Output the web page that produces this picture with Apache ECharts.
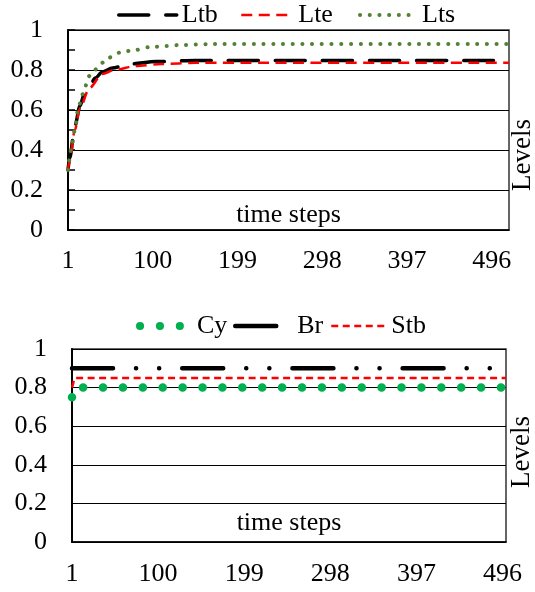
<!DOCTYPE html>
<html><head><meta charset="utf-8">
<script src="https://cdn.jsdelivr.net/npm/echarts@6/dist/echarts.min.js"></script>
<style>html,body{margin:0;padding:0;background:#fff}#c{width:535px;height:592px}</style>
</head><body><div id="c"></div>
<script>
// ---- data ----
const topStepCount = 516;      // number of time steps on the upper chart's axis
const bottomStepCount = 500;   // number of time steps on the lower chart's axis
const xTickLabels = ['1', '100', '199', '298', '397', '496'];

const ltbSteps  = [1, 3, 9, 15, 20, 26, 33, 41, 53, 73, 104, 150, 516];
const ltbValues = [0.30, 0.36, 0.52, 0.62, 0.68, 0.72, 0.76, 0.79, 0.81, 0.83, 0.842, 0.848, 0.848];

const lteSteps  = [1, 3, 9, 15, 26, 41, 55, 80, 110, 150, 516];
const lteValues = [0.30, 0.35, 0.50, 0.61, 0.71, 0.78, 0.80, 0.82, 0.83, 0.836, 0.836];

const ltsSteps  = [1, 5, 9, 13, 17, 19, 26, 32, 39, 47, 64, 79, 96, 116, 131, 170, 516];
const ltsValues = [0.30, 0.41, 0.50, 0.61, 0.66, 0.695, 0.77, 0.80, 0.83, 0.86, 0.89, 0.90, 0.914, 0.92, 0.925, 0.93, 0.93];

const cySteps  = [1, 2, 500];
const cyValues = [0.75, 0.80, 0.80];

const brSteps  = [1, 500];
const brValues = [0.90, 0.90];

const stbSteps  = [1, 4, 500];
const stbValues = [0.80, 0.85, 0.85];

// ---- build ----
const FONT = 'Liberation Serif';
const FS = 26;
function cats(n){ const a=[]; for(let i=1;i<=n;i++) a.push(String(i)); return a; }
function pairs(steps, vals){ return steps.map((s,i)=>[String(s), vals[i]]); }

function xAxisFor(gi, n, nameGap, labelMargin){
  return {
    gridIndex: gi, type: 'category', data: cats(n), boundaryGap: false,
    axisLine: {show: true, lineStyle: {color: '#000', width: 1.5}},
    axisTick: {show: false},
    splitLine: {show: false},
    axisLabel: {interval: 98, margin: labelMargin, fontSize: FS, fontFamily: FONT, color: '#000',
      formatter: v => xTickLabels.indexOf(v) >= 0 ? v : ''},
    name: 'time steps', nameLocation: 'middle', nameGap: nameGap,
    nameTextStyle: {fontSize: FS, fontFamily: FONT, color: '#000', verticalAlign: 'middle'}
  };
}
function yAxisFor(gi, ticks){
  return {
    gridIndex: gi, type: 'value', min: 0, max: 1, interval: 0.2,
    axisLine: {show: true, lineStyle: {color: '#000', width: 2}},
    axisTick: {show: ticks, inside: true, length: 7, lineStyle: {color: '#000', width: 1.5}},
    minorTick: {show: ticks, splitNumber: 2, length: 7, lineStyle: {color: '#000', width: 1.5}},
    splitLine: {show: true, lineStyle: {color: '#000', width: 1.2}},
    axisLabel: {margin: 25, fontSize: FS, fontFamily: FONT, color: '#000'}
  };
}
function legendFor(name, left, top, w, lw){
  return {
    data: [name], left: left, top: top, itemWidth: w, itemHeight: 14, padding: 0,
    textStyle: {fontSize: FS, fontFamily: FONT, color: '#000'},
    itemStyle: {color: 'rgba(0,0,0,0)', borderWidth: 0, opacity: 0},
    lineStyle: {width: lw}
  };
}

const option = {
  animation: false,
  backgroundColor: '#fff',
  grid: [
    {left: 68, top: 30, right: 26, height: 200, show: true, borderColor: '#333', borderWidth: 1.5, containLabel: false},
    {left: 72, top: 349, right: 29, height: 193, show: true, borderColor: '#333', borderWidth: 1.5, containLabel: false}
  ],
  xAxis: [xAxisFor(0, topStepCount, -15, 18), xAxisFor(1, bottomStepCount, -19, 19)],
  yAxis: [yAxisFor(0, true), yAxisFor(1, false)],
  legend: [
    legendFor('Ltb', 117, 2, 58, 3.5),
    legendFor('Lte', 240, 2, 52, 2.5),
    legendFor('Lts', 358, 2, 57, 4),
    legendFor('Cy', 136, 313, 52, 8),
    legendFor('Br', 233, 313, 57, 4.5),
    legendFor('Stb', 330, 313, 55, 2.5)
  ],
  series: [
    {name: 'Ltb', type: 'line', xAxisIndex: 0, yAxisIndex: 0, symbol: 'none', smooth: 0.3, smoothMonotone: 'x',
     data: pairs(ltbSteps, ltbValues), itemStyle: {color: '#000'},
     lineStyle: {color: '#000', width: 3.5, type: [30, 17], cap: 'round'}},
    {name: 'Lte', type: 'line', xAxisIndex: 0, yAxisIndex: 0, symbol: 'none', smooth: 0.3, smoothMonotone: 'x',
     data: pairs(lteSteps, lteValues), itemStyle: {color: '#ff0000'},
     lineStyle: {color: '#ff0000', width: 2.5, type: [11, 6.5]}},
    {name: 'Lts', type: 'line', xAxisIndex: 0, yAxisIndex: 0, symbol: 'none', smooth: 0.3, smoothMonotone: 'x',
     data: pairs(ltsSteps, ltsValues), itemStyle: {color: '#548235'},
     lineStyle: {color: '#548235', width: 4, type: [0.1, 9.6], cap: 'round'}},
    {name: 'Cy', type: 'line', xAxisIndex: 1, yAxisIndex: 1, symbol: 'none',
     data: pairs(cySteps, cyValues), itemStyle: {color: '#00b050'},
     lineStyle: {color: '#00b050', width: 8.5, type: [0.1, 19.8], cap: 'round'}},
    {name: 'Br', type: 'line', xAxisIndex: 1, yAxisIndex: 1, symbol: 'none',
     data: pairs(brSteps, brValues), itemStyle: {color: '#000'},
     lineStyle: {color: '#000', width: 4.5, type: [41, 23, 0.1, 23, 0.1, 23], cap: 'round'}},
    {name: 'Stb', type: 'line', xAxisIndex: 1, yAxisIndex: 1, symbol: 'none',
     data: pairs(stbSteps, stbValues), itemStyle: {color: '#ff0000'},
     lineStyle: {color: '#ff0000', width: 2.5, type: [7, 4.5]}}
  ],
  graphic: [
    {type: 'text', x: 523, y: 155, rotation: Math.PI / 2,
     style: {text: 'Levels', font: '27px "Liberation Serif"', fill: '#000', align: 'center', verticalAlign: 'middle'}},
    {type: 'text', x: 522, y: 452, rotation: Math.PI / 2,
     style: {text: 'Levels', font: '27px "Liberation Serif"', fill: '#000', align: 'center', verticalAlign: 'middle'}}
  ]
};
const chart = echarts.init(document.getElementById('c'), null, {renderer: 'canvas'});
chart.setOption(option);
</script>
</body></html>
